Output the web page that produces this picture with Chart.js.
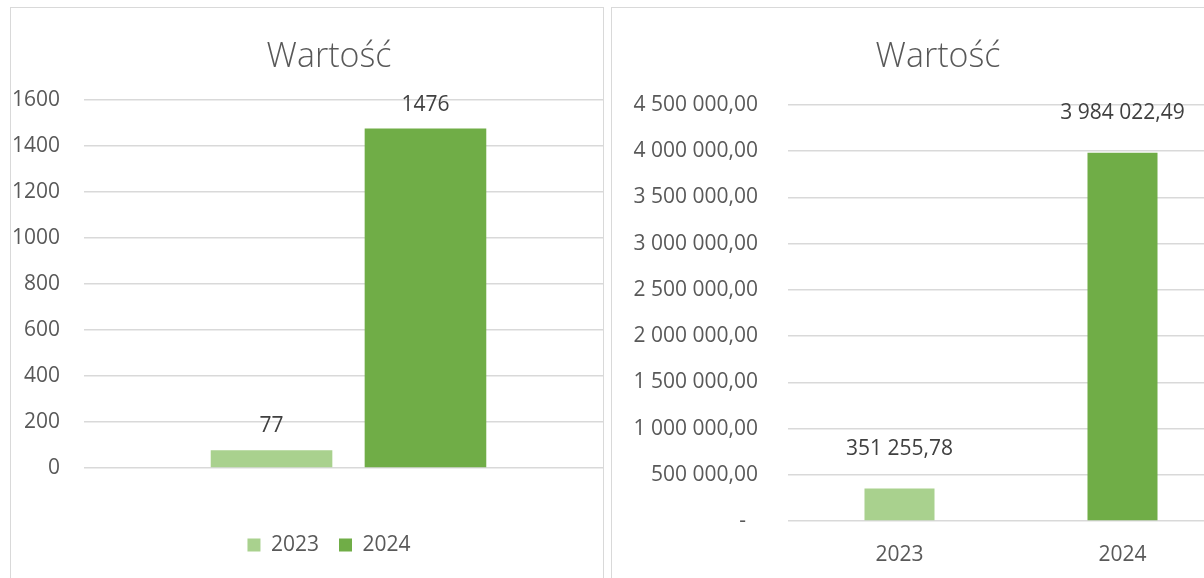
<!DOCTYPE html>
<html><head><meta charset="utf-8">
<script src="https://cdn.jsdelivr.net/npm/chart.js@4.4.1/dist/chart.umd.min.js"></script>
<style>
html,body{margin:0;padding:0;background:#fff;width:1204px;height:578px;overflow:hidden;position:relative}
#boxL{position:absolute;left:10px;top:7px;width:592px;height:580px;border:1px solid #d9d9d9;overflow:hidden}
#boxR{position:absolute;left:611px;top:7px;width:650px;height:580px;border:1px solid #d9d9d9;overflow:hidden}
canvas{position:absolute;left:0;top:0}
</style>
</head><body>
<div id="boxL"><canvas id="cL" width="602" height="570" style="width:602px;height:570px"></canvas></div>
<div id="boxR"><canvas id="cR" width="640" height="570" style="width:640px;height:570px"></canvas></div>
<script>
// ---- data ----
const chartTitle = 'Wartość';
const leftCategories = ['Wartość'];
const leftSeriesNames = ['2023', '2024'];
const leftValues2023 = [77];
const leftValues2024 = [1476];
const leftTickMax = 1600;
const leftTickStep = 200;

const rightCategories = ['2023', '2024'];
const rightValues = [351255.78, 3984022.49];
const rightTickMax = 4500000;
const rightTickStep = 500000;

const colorLight = '#A9D18E';
const colorDark = '#70AD47';
const axisTextColor = '#595959';
const labelTextColor = '#404040';
const gridColor = '#d9d9d9';
const FONT = "'Open Sans', sans-serif";

Chart.defaults.font.family = FONT;
Chart.defaults.color = axisTextColor;

function plNum(v) {
  const neg = v < 0; v = Math.abs(v);
  let [i, d] = v.toFixed(2).split('.');
  i = i.replace(/\B(?=(\d{3})+(?!\d))/g, ' ');
  return (neg ? '-' : '') + i + ',' + d;
}

const valueLabels = {
  id: 'valueLabels',
  afterDatasetsDraw(chart, args, opts) {
    const ctx = chart.ctx;
    ctx.save();
    ctx.font = opts.size + 'px ' + FONT;
    ctx.fillStyle = opts.color;
    ctx.textAlign = 'center';
    ctx.textBaseline = 'middle';
    chart.data.datasets.forEach((ds, di) => {
      const meta = chart.getDatasetMeta(di);
      meta.data.forEach((el, i) => {
        ctx.fillText(opts.format(ds.data[i]), el.x, el.y - opts.offset);
      });
    });
    ctx.restore();
  }
};

// let the y tick labels use the space of the layout padding (no clipping)
const unclipY = {
  id: 'unclipY',
  afterLayout(chart) {
    const y = chart.scales.y;
    y.left = 0;
    y.width = y.right;
  }
};

// ---- left chart ----
new Chart(document.getElementById('cL'), {
  type: 'bar',
  data: {
    labels: leftCategories,
    datasets: [
      { label: leftSeriesNames[0], data: leftValues2023, backgroundColor: colorLight,
        barPercentage: 0.79, categoryPercentage: 0.582 },
      { label: leftSeriesNames[1], data: leftValues2024, backgroundColor: colorDark,
        barPercentage: 0.79, categoryPercentage: 0.582 }
    ]
  },
  plugins: [valueLabels, unclipY],
  options: {
    responsive: false, animation: false, devicePixelRatio: 1,
    layout: { padding: { left: 34, right: 0, top: 0, bottom: 12.5 } },
    plugins: {
      title: { display: true, text: chartTitle, color: axisTextColor,
        font: { size: 34, weight: 300, lineHeight: 1.2 }, padding: { top: 29, bottom: 22.2 } },
      legend: { position: 'bottom',
        labels: { boxWidth: 13, boxHeight: 13, padding: 20, color: axisTextColor, font: { size: 21 } } },
      tooltip: { enabled: false },
      valueLabels: { size: 21, color: labelTextColor, offset: 24, format: v => String(v) }
    },
    scales: {
      x: { grid: { display: false }, border: { display: false }, ticks: { display: false },
        afterFit: s => { s.height = 46.5; } },
      y: { min: 0, max: leftTickMax,
        ticks: { stepSize: leftTickStep, padding: 24, color: axisTextColor, font: { size: 21 },
          callback: v => String(v) },
        grid: { color: gridColor, lineWidth: 1.5, drawTicks: false }, border: { display: false },
        afterFit: s => { s.width = 39; } }
    }
  }
});

// ---- right chart ----
new Chart(document.getElementById('cR'), {
  type: 'bar',
  data: {
    labels: rightCategories,
    datasets: [
      { label: chartTitle, data: rightValues, backgroundColor: [colorLight, colorDark],
        barPercentage: 0.314, categoryPercentage: 1 }
    ]
  },
  plugins: [valueLabels, unclipY],
  options: {
    responsive: false, animation: false, devicePixelRatio: 1,
    layout: { padding: { left: 30, right: 18, top: 0, bottom: 0 } },
    plugins: {
      title: { display: true, text: chartTitle, color: axisTextColor,
        font: { size: 34, weight: 300, lineHeight: 1.2 }, padding: { top: 29, bottom: 27.2 } },
      legend: { display: false },
      tooltip: { enabled: false },
      valueLabels: { size: 21, color: labelTextColor, offset: 40, format: plNum }
    },
    scales: {
      x: { grid: { display: false }, border: { display: false },
        ticks: { padding: 13, color: axisTextColor, font: { size: 21 } },
        afterFit: s => { s.height = 57; } },
      y: { min: 0, max: rightTickMax,
        ticks: { stepSize: rightTickStep, padding: 30, color: axisTextColor, font: { size: 21 },
          callback: v => v === 0 ? '-\u2007' : plNum(v) },
        grid: { color: gridColor, lineWidth: 1.5, drawTicks: false }, border: { display: false },
        afterFit: s => { s.width = 146; } }
    }
  }
});
</script>
</body></html>
